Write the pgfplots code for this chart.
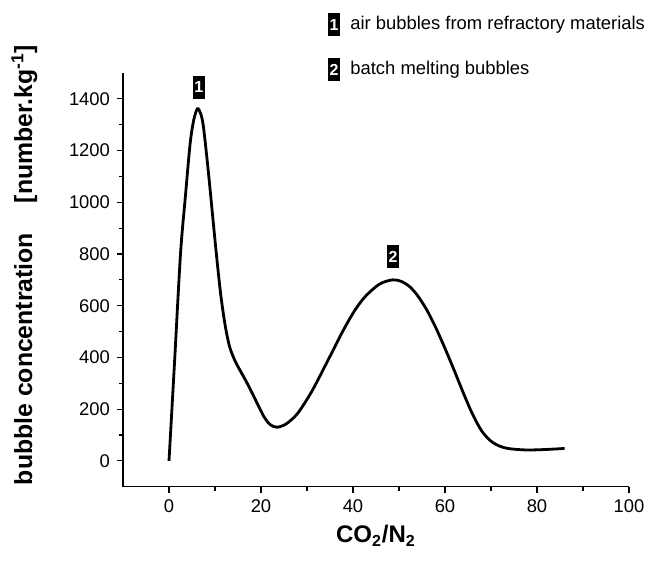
\documentclass[border=0pt]{standalone}
\usepackage{pgfplots}
\pgfplotsset{compat=1.18}
\usepackage{fontspec}
\setmainfont{Liberation Sans}

\tikzset{numbox/.style={fill=black, text=white, font=\fontsize{8}{8}\selectfont\bfseries,
    minimum width=5.8pt, minimum height=11.5pt, inner sep=0pt}}

\begin{document}
\begin{tikzpicture}
\path[use as bounding box] (0,0) rectangle (325pt,281.5pt);
\begin{axis}[
    at={(61.5pt,38.15pt)}, anchor=south west,
    scale only axis,
    width=253pt, height=206.85pt,
    axis lines*=left,
    xmin=-10, xmax=100, ymin=-100, ymax=1500,
    xtick={0,20,...,100}, ytick={0,200,...,1400},
    minor tick num=1,
    tick align=outside,
    major tick length=3pt, minor tick length=2pt,
    axis line style={line width=0.7pt},
    every tick/.style={line width=0.6pt, black},
    tick label style={font=\fontsize{9.2}{10}\selectfont},
    /pgf/number format/assume math mode=true,
    /pgf/number format/set thousands separator={},
    clip=false,
]
\addplot[black, line width=1.4pt, smooth, tension=0.5] coordinates {
    (0,0) (1.2,380) (2.5,800) (3.6,1030) (4.6,1228) (5.4,1320) (6.2,1362)
    (6.9,1342) (7.5,1290) (8.6,1110) (10.1,835) (11.2,650) (12.2,525)
    (13.2,440) (14.4,385) (15.7,342) (17,300) (18.8,236) (20.6,172) (22,140)
    (23.5,130) (25.5,143) (27.8,180) (29.8,232) (31.4,280) (33.5,352)
    (35.8,432) (37.5,492) (39.4,553) (41,598) (42.9,640) (45.8,684)
    (48.6,700) (50.5,694) (52.3,674) (54,640) (56,585) (58,515) (60,435)
    (62,350) (64,262) (66,180) (68,115) (70,76) (72,56) (74,47) (77.7,42)
    (82,44) (86,48)
};
\node[numbox] at (axis cs:6.5,1445) {1};
\node[numbox] at (axis cs:48.7,790) {2};
\node[rotate=90, font=\fontsize{12.4}{13}\selectfont\bfseries]
    at (rel axis cs:-0.195,0.536)
    {bubble concentration\hspace{1.2em}[number.kg\textsuperscript{-1}]};
\node[font=\fontsize{12}{13}\selectfont\bfseries, anchor=base]
    at (rel axis cs:0.5,-0.136) {CO\textsubscript{2}/N\textsubscript{2}};
\end{axis}
\node[numbox] at (167pt,269pt) {1};
\node[numbox] at (167pt,246.5pt) {2};
\node[anchor=west, inner sep=0pt, font=\fontsize{9.2}{10}\selectfont] at (175pt,269pt)
    {air bubbles from refractory materials};
\node[anchor=west, inner sep=0pt, font=\fontsize{9.2}{10}\selectfont] at (175pt,246.5pt)
    {batch melting bubbles};
\end{tikzpicture}
\end{document}
